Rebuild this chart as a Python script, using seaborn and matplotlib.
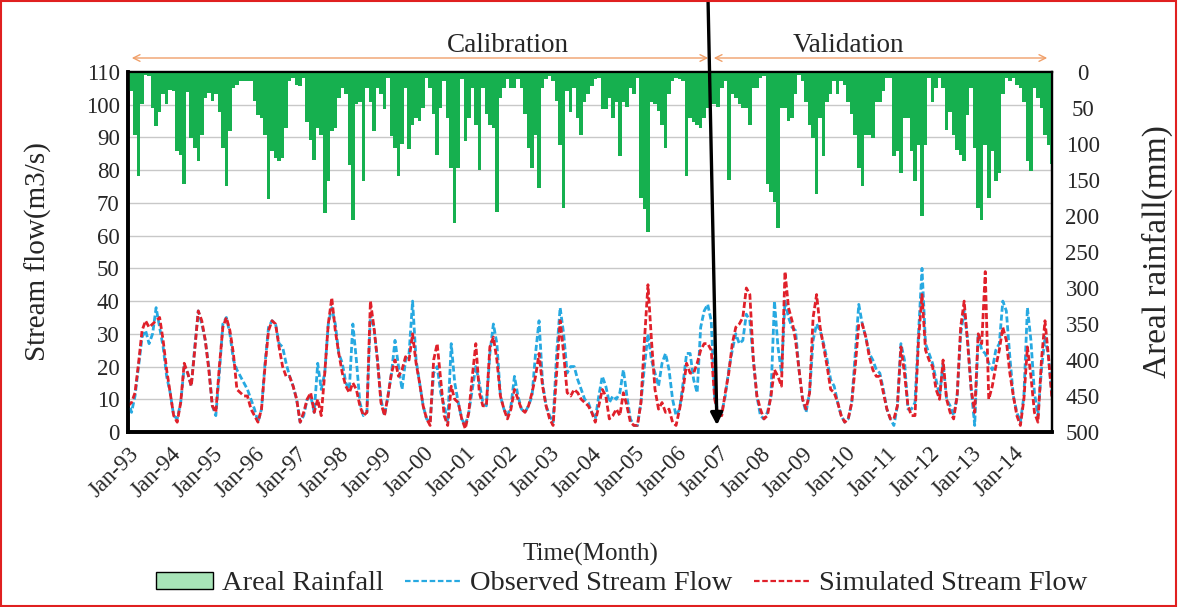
import numpy as np
import pandas as pd
import matplotlib
matplotlib.use("Agg")
import matplotlib.pyplot as plt
import seaborn as sns
from matplotlib.patches import Rectangle, Patch, FancyArrowPatch
from matplotlib.lines import Line2D

# ---------------- data (monthly, Jan-1993 .. Dec-2014) ----------------
obs_calibration = [
    10, 6, 11, 20, 29, 31, 27, 30, 38, 32, 26, 17,
    12, 5, 4, 9, 20, 18, 14, 26, 37, 33, 28, 20,
    8, 5, 18, 33, 35, 30, 22, 19, 17, 15, 13, 10,
    7, 3, 7, 21, 32, 34, 33, 27, 26, 21, 17, 14,
    10, 3, 5, 10, 11, 6, 21, 13, 18, 33, 38, 33,
    24, 21, 15, 13, 33, 22, 9, 5, 6, 36, 32, 22,
    10, 5, 11, 18, 28, 20, 13, 22, 24, 40, 22, 15,
    8, 4, 3, 18, 20, 12, 8, 3, 27, 15, 9,
    4, 2, 6, 13, 20, 15, 9, 8, 24, 33, 27, 11,
    7, 5, 8, 17, 11, 7, 6, 8, 11, 24, 34, 15,
    8, 5, 3, 24, 38, 30, 18, 20, 20, 16, 13, 10,
    9, 6, 4, 11, 17, 14, 9, 11, 10, 12, 19, 11,
    4, 2, 2, 9, 20, 30, 22, 18, 14, 21, 24, 19,
    10, 5, 7, 15, 24, 24, 16, 12, 32, 37, 39, 34,
    10,
]
obs_validation = [
    6, 6, 11, 19, 25, 30, 27, 28, 36, 34, 22,
    11, 5, 4, 6, 11, 40, 26, 18, 40, 35, 32, 31,
    19, 10, 6, 12, 28, 33, 31, 27, 22, 16, 14, 9,
    5, 3, 4, 9, 24, 39, 33, 29, 24, 22, 19, 18,
    13, 7, 4, 2, 8, 27, 22, 7, 7, 9, 30, 50,
    27, 24, 21, 16, 11, 21, 10, 8, 5, 11, 30, 37,
    28, 13, 2, 30, 25, 24, 21, 19, 25, 27, 40, 37,
    23, 11, 6, 3, 11, 38, 28, 12, 5, 19, 29, 23,
    11,
]
sim_calibration = [
    8, 9, 12, 21, 31, 34, 32, 33, 34, 35, 28, 19,
    12, 5, 3, 9, 21, 18, 14, 25, 37, 34, 28, 19,
    8, 6, 20, 32, 35, 31, 24, 13, 12, 11, 11, 7,
    5, 3, 7, 20, 31, 34, 33, 26, 20, 17, 17, 14,
    10, 3, 6, 10, 12, 6, 10, 5, 18, 33, 41, 31,
    24, 18, 14, 12, 15, 13, 8, 5, 6, 40, 32, 22,
    9, 5, 11, 18, 22, 17, 19, 23, 22, 30, 21, 15,
    8, 4, 2, 22, 27, 16, 5, 2, 14, 10, 9,
    4, 1, 6, 17, 27, 12, 8, 8, 26, 29, 22, 11,
    7, 4, 7, 13, 10, 7, 6, 8, 12, 17, 24, 14,
    8, 4, 2, 18, 34, 24, 12, 11, 13, 12, 10, 9,
    8, 6, 3, 8, 13, 11, 4, 5, 7, 5, 12, 8,
    3, 2, 2, 9, 28, 45, 28, 13, 7, 9, 6, 7,
    3, 2, 7, 13, 21, 18, 18, 21, 25, 27, 27, 25,
    10,
]
sim_validation = [
    5, 5, 12, 18, 27, 32, 33, 35, 44, 42, 22,
    11, 7, 4, 5, 11, 19, 17, 14, 49, 38, 34, 28,
    19, 10, 7, 12, 35, 42, 32, 26, 20, 13, 12, 9,
    5, 3, 4, 9, 20, 33, 33, 29, 23, 19, 17, 17,
    12, 7, 4, 4, 8, 26, 18, 8, 5, 5, 28, 42,
    25, 22, 20, 13, 10, 22, 10, 6, 4, 11, 32, 40,
    27, 13, 6, 30, 27, 49, 10, 14, 20, 25, 32, 28,
    18, 11, 5, 2, 10, 26, 17, 6, 3, 22, 34, 23,
    10,
]
rain_calibration = [
    27, 27, 87, 145, 45, 4, 5, 50, 75, 55, 30, 45,
    25, 27, 110, 115, 156, 28, 92, 106, 124, 87, 36, 29,
    40, 31, 55, 106, 159, 82, 22, 18, 13, 13, 13, 13,
    40, 60, 64, 87, 177, 110, 119, 124, 119, 78, 13, 8,
    18, 20, 9, 70, 95, 122, 78, 87, 196, 152, 82, 78,
    36, 22, 31, 129, 205, 45, 41, 152, 22, 41, 82, 22,
    31, 52, 9, 89, 105, 145, 100, 22, 107, 73, 64, 68,
    50, 9, 22, 59, 115, 50, 12, 64, 133, 210, 133,
    10, 96, 64, 22, 73, 136, 22, 59, 73, 78, 194, 36,
    22, 10, 22, 22, 10, 22, 59, 105, 133, 87, 161, 22,
    10, 6, 13, 40, 101, 189, 27, 55, 22, 64, 87, 41,
    31, 20, 10, 9, 52, 52, 36, 64, 41, 117, 41, 48,
    22, 31, 9, 175, 190, 222, 41, 45, 54, 73, 105, 31,
    13, 9, 10, 13, 145, 64, 69, 73, 78, 64, 50, 45,
    45,
]
rain_validation = [
    48, 22, 13, 150, 31, 36, 45, 50, 50, 73, 22,
    22, 9, 6, 156, 166, 180, 217, 50, 50, 68, 64, 31,
    4, 13, 41, 73, 92, 170, 64, 117, 41, 31, 13, 31,
    13, 18, 41, 59, 87, 133, 159, 87, 87, 92, 41, 41,
    27, 9, 9, 116, 110, 140, 64, 64, 110, 152, 101, 200,
    101, 9, 41, 22, 9, 22, 80, 55, 87, 108, 115, 124,
    60, 22, 105, 189, 205, 101, 175, 110, 152, 140, 31, 9,
    13, 9, 18, 22, 41, 124, 138, 22, 36, 50, 87, 101,
    128,
]
tick_labels = ["Jan-93", "Jan-94", "Jan-95", "Jan-96", "Jan-97", "Jan-98", "Jan-99",
               "Jan-00", "Jan-01", "Jan-02", "Jan-03", "Jan-04", "Jan-05", "Jan-06",
               "Jan-07", "Jan-08", "Jan-09", "Jan-10", "Jan-11", "Jan-12", "Jan-13",
               "Jan-14"]

observed = obs_calibration + obs_validation
simulated = sim_calibration + sim_validation
rainfall = rain_calibration + rain_validation
n = len(observed)
df = pd.DataFrame({"month": np.arange(n), "observed": observed,
                   "simulated": simulated, "rain": rainfall})

# ---------------- style ----------------
sns.set_theme(style="white")
plt.rcParams["font.family"] = ["Liberation Serif", "DejaVu Serif"]
plt.rcParams["axes.unicode_minus"] = False

W, H = 1178, 607
fig = plt.figure(figsize=(W / 100, H / 100), dpi=100)
fx = lambda px: px / W
fy = lambda py: 1 - py / H

L, R, T, B = 128, 1052, 72, 432
ax = fig.add_axes([fx(L), fy(B), fx(R) - fx(L), fy(T) - fy(B)])

GREEN = "#16B04F"
BLUE = "#27A9E1"
RED = "#E0202A"

# stream flow lines
sns.lineplot(data=df, x="month", y="observed", ax=ax, color=BLUE, lw=2.0,
             linestyle=(0, (2.2, 1.0)), zorder=3)
sns.lineplot(data=df, x="month", y="simulated", ax=ax, color=RED, lw=2.0,
             linestyle=(0, (2.2, 1.0)), zorder=4)
ax.set_xlim(0, n - 1)
ax.set_ylim(0, 110)
ax.set_yticks(range(0, 111, 10))
ax.yaxis.grid(True, color="#C8C8C8", lw=1.0)
ax.set_axisbelow(True)
ax.set_xticks(range(0, n, 12))
ax.set_xticklabels(tick_labels, rotation=45, ha="right", rotation_mode="anchor")
ax.tick_params(axis="x", labelsize=16.5, length=4, width=1, color="black", pad=4)
ax.tick_params(axis="y", labelsize=16.5, length=0, pad=6)
ax.set_xlabel("Time(Month)", fontsize=18, labelpad=30)
ax.set_ylabel("Stream flow(m3/s)", fontsize=21, labelpad=24)

# rainfall bars on inverted secondary axis
ax2 = ax.twinx()
ax2.bar(df["month"], df["rain"], width=1.0, color=GREEN, linewidth=0, zorder=2)
ax2.set_ylim(500, 0)
ax2.set_yticks(range(0, 501, 50))
ax2.tick_params(axis="y", labelsize=16.5, length=0, pad=22)
for lab in ax2.get_yticklabels():
    lab.set_ha("center")
ax2.set_ylabel("Areal rainfall(mm)", fontsize=24, labelpad=30)
ax2.set_xlim(0, n - 1)

for a in (ax, ax2):
    for s in a.spines.values():
        s.set_color("black")
        s.set_linewidth(1.6)
    a.spines["left"].set_linewidth(2.6)
    a.spines["bottom"].set_linewidth(2.6)

# period arrows and labels
arrow_y = fy(58)
fig.add_artist(FancyArrowPatch(
    (fx(129), arrow_y), (fx(711), arrow_y), transform=fig.transFigure,
    arrowstyle="<->", mutation_scale=12, color="#F0A06A", lw=1.0))
fig.add_artist(FancyArrowPatch(
    (fx(711), arrow_y), (fx(1050), arrow_y), transform=fig.transFigure,
    arrowstyle="<->", mutation_scale=12, color="#F0A06A", lw=1.0))
fig.text(fx(508), fy(45), "Calibration", fontsize=19.5, ha="center", va="center")
fig.text(fx(848), fy(45), "Validation", fontsize=19.5, ha="center", va="center")

# black split arrow
fig.add_artist(FancyArrowPatch(
    (fx(708), fy(-2)), (fx(717), fy(428)), transform=fig.transFigure,
    arrowstyle="-|>", mutation_scale=18, color="black", lw=2.4))

# legend
handles = [Patch(facecolor="#A8E4B8", edgecolor="black", lw=1.0),
           Line2D([], [], color=BLUE, lw=1.6, linestyle=(0, (2.5, 1.2))),
           Line2D([], [], color=RED, lw=1.6, linestyle=(0, (2.5, 1.2)))]
fig.legend(handles, ["Areal Rainfall", "Observed Stream Flow", "Simulated Stream Flow"],
           loc="center", bbox_to_anchor=(fx(622), fy(584)), ncol=3, frameon=False,
           fontsize=20.5, handlelength=2.0, handleheight=0.5, columnspacing=0.75,
           handletextpad=0.3)

# red outer border
fig.add_artist(Rectangle((0.001, 0.002), 0.997, 0.996, transform=fig.transFigure,
                         fill=False, edgecolor="#E02020", lw=1.5))

fig.savefig("out.png", dpi=100)
